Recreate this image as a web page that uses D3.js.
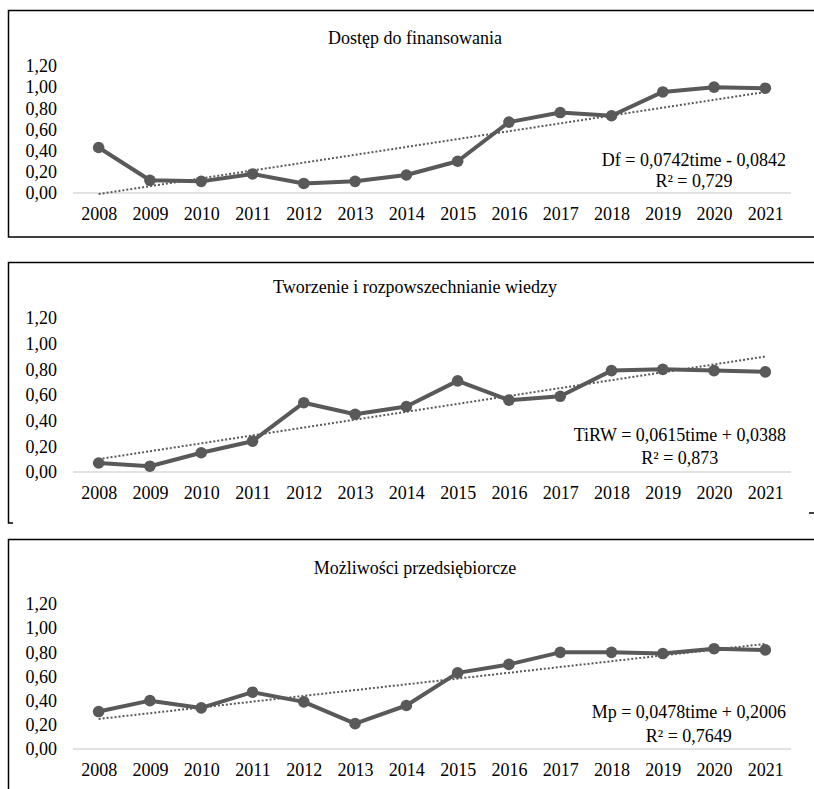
<!DOCTYPE html>
<html><head><meta charset="utf-8">
<script src="https://cdn.jsdelivr.net/npm/d3@7"></script>
<style>
html,body{margin:0;padding:0;background:#fff;}
svg{display:block;}
</style></head>
<body>
<svg id="c" width="814" height="789"></svg>
<script>
const years = ["2008","2009","2010","2011","2012","2013","2014","2015","2016","2017","2018","2019","2020","2021"];
const yTicks = [0, 0.2, 0.4, 0.6, 0.8, 1.0, 1.2];
const titles = ["Dostęp do finansowania", "Tworzenie i rozpowszechnianie wiedzy", "Możliwości przedsiębiorcze"];
const dfValues   = [0.43, 0.12, 0.11, 0.18, 0.09, 0.11, 0.17, 0.30, 0.67, 0.76, 0.73, 0.955, 1.00, 0.99];
const tirwValues = [0.07, 0.045, 0.15, 0.24, 0.54, 0.45, 0.51, 0.71, 0.56, 0.59, 0.79, 0.80, 0.79, 0.78];
const mpValues   = [0.31, 0.40, 0.34, 0.47, 0.39, 0.21, 0.36, 0.63, 0.70, 0.80, 0.80, 0.79, 0.83, 0.82];
const trendSlopes = [0.0742, 0.0615, 0.0478];
const trendIntercepts = [-0.0842, 0.0388, 0.2006];
const equations = ["Df = 0,0742time - 0,0842", "TiRW = 0,0615time + 0,0388", "Mp = 0,0478time + 0,2006"];
const r2Labels = ["R² = 0,729", "R² = 0,873", "R² = 0,7649"];

const series = [dfValues, tirwValues, mpValues];
const layout = [
  {top: 10.5, y0: 193, y12: 66, bottom: 237, title: 44, eq1: 166, eq2: 187},
  {top: 262.5, y0: 472, y12: 318, bottom: 523, title: 293, eq1: 441, eq2: 464},
  {top: 539.5, y0: 749, y12: 604, bottom: 800, title: 574, eq1: 718, eq2: 742}
];
const svg = d3.select("#c");
const lineColor = "#595959";
const serif = "Liberation Serif";
const fmt = v => d3.format(".2f")(v).replace(".", ",");
const x = d3.scalePoint().domain(years).range([73, 791]).padding(0.5);

series.forEach((vals, i) => {
  const L = layout[i];
  const g = svg.append("g");
  if (i === 0) {
    g.append("rect").attr("x", 8.5).attr("y", L.top).attr("width", 830).attr("height", L.bottom - L.top)
      .attr("fill", "none").attr("stroke", "#000").attr("stroke-width", 1.5);
  } else if (i === 1) {
    g.append("path").attr("d", `M13,${L.bottom} H8.5 V${L.top} H830`)
      .attr("fill", "none").attr("stroke", "#000").attr("stroke-width", 1.5);
    g.append("path").attr("d", `M809,513 H814`).attr("stroke", "#000").attr("stroke-width", 1.5);
  } else {
    g.append("path").attr("d", `M8.5,${L.bottom} V${L.top} H830`)
      .attr("fill", "none").attr("stroke", "#000").attr("stroke-width", 1.5);
  }
  const y = d3.scaleLinear().domain([0, 1.2]).range([L.y0, L.y12]);
  g.append("text").attr("x", 415).attr("y", L.title).attr("text-anchor", "middle")
    .attr("font-family", serif).attr("font-size", 18).text(titles[i]);
  g.append("line").attr("x1", 73).attr("x2", 791).attr("y1", y(0)).attr("y2", y(0))
    .attr("stroke", "#d9d9d9").attr("stroke-width", 1.5);
  const ya = g.append("g").attr("transform", "translate(57,0)")
    .call(d3.axisLeft(y).tickValues(yTicks).tickFormat(fmt).tickSize(0).tickPadding(0));
  ya.select(".domain").remove();
  ya.attr("font-family", null).attr("font-size", null);
  ya.selectAll("text").attr("fill", "#000").attr("font-family", serif).attr("font-size", 18);
  const xa = g.append("g").attr("transform", `translate(0,${y(0)})`)
    .call(d3.axisBottom(x).tickSize(0).tickPadding(14));
  xa.select(".domain").remove();
  xa.attr("font-family", null).attr("font-size", null);
  xa.selectAll("text").attr("fill", "#000").attr("font-family", serif).attr("font-size", 18);
  const t0 = 1, t1 = years.length;
  g.append("line")
    .attr("x1", x(years[0])).attr("y1", y(trendSlopes[i] * t0 + trendIntercepts[i]))
    .attr("x2", x(years[years.length - 1])).attr("y2", y(trendSlopes[i] * t1 + trendIntercepts[i]))
    .attr("stroke", lineColor).attr("stroke-width", 2).attr("stroke-dasharray", "2 2");
  const line = d3.line().x((d, j) => x(years[j])).y(d => y(d));
  g.append("path").datum(vals).attr("d", line).attr("fill", "none")
    .attr("stroke", lineColor).attr("stroke-width", 4).attr("stroke-linejoin", "round");
  g.selectAll("circle.m").data(vals).enter().append("circle")
    .attr("cx", (d, j) => x(years[j])).attr("cy", d => y(d)).attr("r", 5.8).attr("fill", lineColor);
  const e1 = g.append("text").attr("x", 786).attr("y", L.eq1).attr("text-anchor", "end")
    .attr("font-family", serif).attr("font-size", 18).text(equations[i]);
  const w = e1.node().getComputedTextLength();
  g.append("text").attr("x", 786 - w / 2).attr("y", L.eq2).attr("text-anchor", "middle")
    .attr("font-family", serif).attr("font-size", 18).text(r2Labels[i]);
});
</script>
</body></html>
